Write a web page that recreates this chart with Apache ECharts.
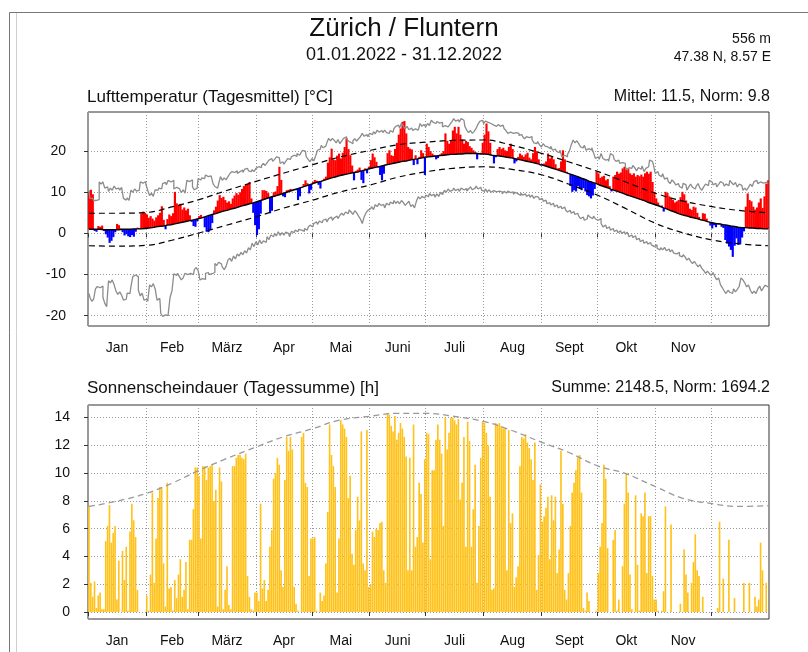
<!DOCTYPE html>
<html lang="de">
<head>
<meta charset="UTF-8">
<title>Zürich / Fluntern 2022</title>
<script src="https://cdn.jsdelivr.net/npm/echarts@6/dist/echarts.min.js"></script>
<style>
  html, body { margin: 0; padding: 0; background: #fff; }
  #main { width: 808px; height: 652px; }
</style>
</head>
<body>
<div id="main"></div>
<script>
// Monatsgrenzen (Tag im Jahr, 0-basiert) und Beschriftungen
const monthStarts = [0, 31, 59, 90, 120, 151, 181, 212, 243, 273, 304, 334, 365];
const monthNames = ['Jan', 'Feb', 'März', 'Apr', 'Mai', 'Juni', 'Juli', 'Aug', 'Sept', 'Okt', 'Nov'];
const tempTicks = [-20, -10, 0, 10, 20];
const sunTicks = [0, 2, 4, 6, 8, 10, 12, 14];

// Tagesmittel der Lufttemperatur 2022 [°C], Jan..Dez
const tempMean = [
  10.2, 10.6, 9.5, 0.6, 0.4, 1.8, 1.6, 1.9, 0.6, -0.2, -1.0, -2.3, -1.8, -0.9, 0.3, 2.3, 2.0, 1.2, 0.3, -0.5, -0.2, -0.7, -0.9, -0.4, -0.8, 0.4, 1.4, 1.3, 4.9, 5.3, 5.0,
  4.6, 3.8, 4.2, 3.6, 3.1, 3.9, 4.4, 5.0, 6.6, 3.3, 1.0, 3.5, 4.6, 4.2, 4.9, 10.1, 7.3, 6.9, 7.2, 5.8, 6.3, 5.6, 6.0, 4.4, 2.8, 1.8, 1.6, 2.9,
  4.2, 4.5, 3.8, 1.5, 0.4, 0.3, 0.8, 2.5, 5.6, 6.5, 8.0, 9.3, 8.6, 8.9, 8.1, 7.5, 7.8, 7.2, 8.5, 9.2, 9.8, 9.4, 10.0, 10.8, 11.5, 11.8, 12.0, 12.5, 8.5, 5.0, 2.0,
  -0.4, 1.0, 4.8, 10.5, 10.5, 10.3, 9.8, 4.9, 5.5, 10.0, 10.2, 11.5, 16.2, 13.0, 9.0, 8.8, 10.5, 10.6, 10.8, 10.6, 10.8, 10.5, 8.1, 9.0, 11.3, 12.0, 12.9, 12.2, 9.7, 10.6,
  12.5, 13.0, 12.8, 11.8, 10.9, 12.9, 13.3, 13.8, 17.2, 18.5, 20.6, 18.0, 17.8, 18.9, 19.4, 18.2, 19.6, 21.0, 23.1, 20.5, 19.0, 16.5, 12.9, 15.2, 15.5, 16.0, 13.0, 12.2, 15.8, 14.6, 16.2,
  17.8, 19.4, 18.5, 17.4, 16.0, 14.2, 12.9, 14.5, 16.8, 19.5, 20.2, 19.0, 18.8, 20.5, 22.0, 24.0, 25.5, 27.1, 27.3, 24.3, 21.0, 20.6, 20.4, 16.6, 19.0, 16.8, 18.6, 20.2, 19.5, 14.2,
  21.8, 21.0, 20.0, 19.4, 19.0, 18.0, 18.3, 19.2, 19.5, 20.0, 24.3, 22.5, 21.8, 22.5, 25.0, 25.9, 24.3, 25.9, 24.0, 22.8, 21.8, 22.5, 22.2, 21.2, 20.8, 20.2, 19.8, 18.0, 19.4, 19.6, 22.0,
  24.0, 26.7, 24.8, 22.0, 19.0, 17.0, 18.5, 20.5, 21.0, 20.5, 20.8, 20.2, 20.0, 21.0, 21.8, 20.5, 17.0, 17.5, 18.6, 19.4, 19.0, 18.6, 19.2, 19.6, 18.4, 18.0, 19.5, 21.0, 20.0, 18.0, 16.5,
  16.9, 17.0, 17.5, 19.4, 18.2, 18.6, 18.0, 16.8, 15.8, 15.9, 17.5, 20.2, 18.0, 15.0, 14.5, 11.5, 10.1, 10.5, 10.2, 11.5, 10.9, 10.5, 11.0, 10.2, 9.3, 9.0, 8.5, 9.2, 10.8, 15.0,
  14.6, 13.5, 13.8, 14.0, 12.9, 13.2, 11.5, 10.2, 13.8, 14.2, 15.0, 14.5, 14.8, 15.8, 16.2, 15.5, 15.8, 14.6, 14.2, 14.6, 13.8, 14.2, 13.9, 14.3, 13.8, 14.6, 15.0, 14.5, 15.0, 12.5, 10.1,
  8.5, 7.5, 6.4, 6.8, 5.3, 10.1, 9.8, 9.0, 8.5, 8.1, 7.5, 7.8, 8.1, 8.8, 10.1, 9.5, 8.0, 7.3, 6.0, 5.7, 6.5, 6.3, 5.0, 4.0, 3.5, 4.9, 4.8, 3.6, 2.9, 1.9,
  1.2, 2.0, 1.5, 2.2, 2.5, 1.6, 1.3, -1.6, -2.5, -3.2, -4.0, -5.7, -3.0, -1.2, -2.8, -2.5, -1.0, 0.5, 6.5, 9.7, 8.1, 7.8, 6.5, 5.8, 6.3, 7.5, 8.5, 6.2, 9.0, 12.1, 12.9
];

// Norm (Tagesmittel 1991-2020) [°C]
const tempNorm = [
  1.0, 1.0, 1.0, 1.0, 1.0, 1.0, 1.0, 0.9, 0.9, 0.9, 0.9, 0.9, 0.9, 0.9, 0.9, 0.9, 0.9, 0.9, 1.0, 1.0, 1.0, 1.0, 1.0, 1.0, 1.1, 1.1, 1.1, 1.1, 1.1, 1.2, 1.2,
  1.2, 1.3, 1.3, 1.4, 1.5, 1.6, 1.6, 1.7, 1.8, 1.8, 1.9, 2.0, 2.1, 2.1, 2.2, 2.3, 2.4, 2.5, 2.6, 2.7, 2.8, 2.9, 3.0, 3.1, 3.2, 3.3, 3.4, 3.5,
  3.6, 3.7, 3.9, 4.0, 4.1, 4.3, 4.4, 4.6, 4.7, 4.8, 5.0, 5.1, 5.2, 5.4, 5.5, 5.6, 5.8, 5.9, 6.0, 6.1, 6.3, 6.4, 6.5, 6.7, 6.8, 6.9, 7.0, 7.2, 7.3, 7.4, 7.6,
  7.7, 7.8, 8.0, 8.1, 8.3, 8.4, 8.6, 8.7, 8.9, 9.0, 9.1, 9.3, 9.4, 9.6, 9.7, 9.9, 10.0, 10.2, 10.3, 10.5, 10.6, 10.8, 10.9, 11.1, 11.2, 11.4, 11.5, 11.7, 11.8, 12.0,
  12.1, 12.2, 12.4, 12.5, 12.6, 12.8, 12.9, 13.1, 13.2, 13.3, 13.5, 13.6, 13.7, 13.9, 14.0, 14.1, 14.2, 14.3, 14.4, 14.5, 14.6, 14.7, 14.8, 14.8, 14.9, 15.1, 15.2, 15.3, 15.4, 15.6, 15.7,
  15.8, 15.9, 16.0, 16.1, 16.2, 16.3, 16.4, 16.5, 16.6, 16.7, 16.8, 16.9, 17.0, 17.1, 17.2, 17.3, 17.4, 17.5, 17.5, 17.6, 17.7, 17.8, 17.9, 18.0, 18.1, 18.1, 18.2, 18.3, 18.4, 18.5,
  18.6, 18.6, 18.7, 18.7, 18.8, 18.8, 18.9, 18.9, 18.9, 19.0, 19.0, 19.1, 19.1, 19.2, 19.2, 19.2, 19.2, 19.3, 19.3, 19.3, 19.4, 19.4, 19.4, 19.4, 19.4, 19.4, 19.4, 19.4, 19.3, 19.3, 19.3,
  19.3, 19.2, 19.2, 19.1, 19.0, 19.0, 18.9, 18.9, 18.8, 18.7, 18.7, 18.6, 18.5, 18.5, 18.4, 18.3, 18.2, 18.1, 18.0, 17.9, 17.8, 17.8, 17.6, 17.5, 17.4, 17.3, 17.2, 17.1, 17.0, 16.9, 16.7,
  16.6, 16.5, 16.3, 16.2, 16.0, 15.9, 15.7, 15.6, 15.5, 15.3, 15.2, 15.0, 14.9, 14.7, 14.6, 14.4, 14.3, 14.1, 13.9, 13.8, 13.6, 13.4, 13.3, 13.1, 12.9, 12.7, 12.6, 12.4, 12.2, 12.1,
  11.9, 11.7, 11.6, 11.4, 11.2, 11.1, 10.9, 10.7, 10.6, 10.4, 10.3, 10.1, 9.9, 9.8, 9.6, 9.4, 9.3, 9.1, 9.0, 8.8, 8.6, 8.5, 8.3, 8.2, 8.0, 7.9, 7.7, 7.5, 7.4, 7.2, 7.1,
  6.9, 6.7, 6.6, 6.4, 6.2, 6.0, 5.9, 5.7, 5.5, 5.4, 5.2, 5.0, 4.8, 4.7, 4.5, 4.4, 4.3, 4.1, 4.0, 3.9, 3.8, 3.7, 3.6, 3.4, 3.3, 3.2, 3.1, 3.0, 2.8, 2.7,
  2.6, 2.5, 2.4, 2.4, 2.3, 2.2, 2.1, 2.1, 2.0, 1.9, 1.8, 1.7, 1.7, 1.6, 1.5, 1.5, 1.4, 1.4, 1.4, 1.4, 1.3, 1.3, 1.3, 1.3, 1.2, 1.2, 1.2, 1.2, 1.1, 1.1, 1.1
];

// Höchstes und tiefstes Tagesmittel der Referenzperiode [°C]
const tempMax = [
  10.5, 8.5, 8.5, 8.0, 8.0, 8.2, 12.5, 12.0, 12.5, 11.0, 11.3, 10.2, 11.0, 10.5, 11.5, 10.8, 11.0, 10.5, 11.2, 8.5, 8.1, 8.6, 8.0, 10.5, 10.0, 10.8, 10.3, 10.5, 12.5, 12.2, 12.6,
  12.0, 10.5, 9.2, 9.8, 9.0, 10.6, 10.5, 11.0, 10.8, 12.1, 12.4, 11.8, 12.9, 12.5, 12.9, 10.8, 11.2, 10.9, 10.5, 9.9, 10.6, 9.8, 12.9, 12.6, 13.0, 11.3, 10.6, 11.0,
  13.3, 13.0, 13.5, 13.3, 14.2, 13.8, 14.0, 13.8, 12.1, 11.4, 11.0, 12.0, 13.8, 12.9, 13.5, 13.0, 13.8, 14.5, 15.0, 14.8, 15.2, 14.6, 15.0, 15.4, 14.8, 15.6, 15.8, 15.2, 15.0, 15.5, 15.0,
  15.8, 16.2, 16.0, 16.5, 17.0, 16.5, 17.2, 17.8, 18.2, 17.5, 18.0, 18.6, 18.4, 17.0, 17.4, 16.8, 17.5, 18.2, 18.0, 18.6, 19.0, 18.7, 19.4, 19.0, 19.5, 20.2, 20.0, 18.6, 18.0, 17.4,
  18.2, 17.6, 18.8, 20.2, 20.5, 21.4, 20.8, 21.2, 22.0, 23.1, 22.5, 23.1, 22.6, 22.0, 22.8, 21.8, 22.5, 23.1, 23.5, 22.6, 22.2, 21.8, 22.5, 23.0, 22.4, 23.0, 23.5, 24.3, 23.6, 24.0, 23.5,
  24.3, 24.0, 24.7, 24.2, 25.1, 24.6, 25.0, 24.5, 25.1, 24.5, 24.3, 25.0, 24.6, 25.5, 26.0, 26.3, 25.6, 26.8, 26.0, 25.5, 26.0, 25.2, 25.6, 25.0, 25.4, 25.1, 25.5, 26.7, 26.0, 26.5,
  25.9, 26.7, 26.2, 27.5, 27.0, 26.7, 27.2, 26.8, 27.0, 25.9, 26.2, 25.9, 25.6, 26.5, 27.1, 27.9, 27.3, 27.6, 27.1, 27.9, 27.5, 26.0, 25.1, 24.5, 25.0, 24.3, 24.8, 25.5, 26.5, 27.2, 27.5,
  26.7, 27.3, 27.0, 26.7, 27.0, 26.3, 26.0, 26.3, 26.5, 26.0, 26.3, 25.5, 25.0, 24.3, 24.6, 24.3, 24.0, 24.5, 24.3, 23.8, 24.0, 23.5, 23.0, 23.5, 23.3, 23.5, 22.8, 22.0, 21.8, 22.3, 21.5,
  21.0, 21.8, 21.2, 21.0, 20.6, 21.2, 20.2, 20.5, 20.0, 19.6, 20.2, 18.6, 19.0, 18.6, 19.2, 20.0, 21.5, 22.7, 22.0, 22.5, 21.8, 21.0, 20.8, 21.4, 20.2, 20.6, 20.2, 20.8, 19.5, 18.2,
  18.6, 18.0, 19.4, 18.2, 17.8, 18.0, 17.5, 19.4, 19.0, 18.0, 17.5, 17.8, 17.0, 17.2, 17.0, 16.2, 15.4, 16.0, 15.8, 16.5, 16.0, 15.2, 16.0, 15.6, 16.4, 15.0, 15.8, 16.2, 17.8, 17.5, 16.8,
  14.6, 15.0, 14.2, 13.8, 14.5, 13.2, 13.5, 12.6, 12.1, 13.0, 12.5, 11.8, 12.1, 11.4, 11.0, 12.2, 11.8, 10.5, 11.3, 12.0, 11.2, 10.8, 11.5, 12.1, 11.0, 10.5, 11.3, 12.0, 11.6, 12.9,
  12.5, 11.8, 12.2, 11.3, 11.9, 12.6, 12.2, 11.5, 12.0, 11.6, 12.9, 12.3, 11.8, 12.4, 11.3, 12.0, 11.6, 10.5, 11.0, 10.5, 11.2, 12.0, 11.4, 12.6, 12.9, 12.1, 12.5, 12.2, 11.8, 12.4, 12.1
];
const tempMin = [
  -14.6, -15.5, -16.5, -16.0, -13.5, -12.9, -13.2, -12.8, -15.5, -17.0, -17.8, -11.5, -12.0, -11.3, -12.5, -14.0, -14.8, -14.2, -15.0, -16.2, -16.0, -14.5, -14.6, -13.0, -10.5, -10.1, -10.5, -13.8, -15.2, -14.5, -16.2,
  -16.0, -16.5, -12.5, -13.0, -12.2, -13.5, -16.2, -15.8, -19.4, -20.2, -19.8, -20.0, -19.5, -15.5, -14.0, -9.8, -10.2, -9.7, -10.5, -11.3, -10.8, -9.7, -10.0, -9.7, -9.5, -10.0, -8.8, -8.3,
  -9.0, -11.3, -11.0, -11.2, -9.7, -9.5, -10.0, -9.8, -9.5, -7.3, -7.8, -7.0, -7.4, -8.2, -8.8, -8.0, -6.5, -6.0, -6.8, -5.5, -6.2, -5.0, -5.5, -4.6, -5.2, -4.2, -4.8, -3.5, -4.0, -2.4, -3.2,
  -2.0, -2.8, -1.6, -2.5, -1.8, -2.2, -0.8, -1.5, -0.4, -0.8, 0.0, -0.6, 0.4, -0.5, 0.2, -0.4, 0.3, 0.0, -0.8, 0.5, 0.2, 0.8, 0.4, 1.0, 0.8, 0.5, 1.2, 0.8, 1.5, 2.0,
  1.6, 2.4, 2.8, 2.2, 3.0, 2.6, 3.2, 3.5, 2.8, 3.6, 4.0, 3.2, 3.8, 4.2, 3.6, 4.4, 4.9, 4.4, 5.2, 4.8, 5.7, 5.2, 4.6, 5.5, 5.0, 4.2, 3.5, 2.4, 4.0, 5.0, 5.6,
  6.0, 6.5, 5.8, 7.0, 6.5, 7.3, 6.8, 7.0, 6.2, 7.3, 6.9, 7.6, 7.2, 8.0, 7.3, 7.8, 7.2, 8.0, 7.5, 6.8, 7.3, 7.8, 6.5, 7.0, 6.2, 7.8, 8.9, 8.4, 9.0, 8.6,
  9.3, 8.9, 9.7, 9.2, 9.5, 8.8, 9.6, 9.0, 10.0, 9.4, 10.5, 10.0, 10.8, 10.2, 10.5, 11.0, 10.4, 10.8, 10.2, 11.0, 10.6, 10.9, 10.3, 10.8, 11.3, 10.6, 11.0, 11.5, 10.8, 11.2, 10.5,
  10.2, 10.8, 10.1, 10.6, 10.0, 10.4, 10.1, 9.8, 10.3, 10.1, 9.6, 10.2, 9.8, 10.3, 9.9, 10.1, 9.5, 10.0, 9.6, 9.2, 9.8, 9.3, 9.6, 9.0, 9.4, 8.8, 9.3, 8.5, 9.0, 8.8, 8.2,
  8.5, 7.8, 8.1, 7.2, 7.5, 6.9, 7.3, 6.5, 6.9, 6.2, 6.6, 6.0, 6.4, 5.7, 5.2, 5.6, 4.9, 5.3, 4.6, 4.9, 4.2, 3.6, 4.0, 3.2, 3.5, 4.5, 4.0, 3.6, 4.2, 3.5,
  3.2, 3.6, 2.4, 1.6, 2.0, 1.2, 1.6, 0.8, 1.2, 0.5, 0.8, 0.2, 0.6, 0.0, 0.4, -0.2, 0.3, -0.8, -0.4, -1.0, -0.6, -1.5, -1.2, -2.0, -1.6, -2.4, -2.0, -2.6, -2.2, -2.8, -3.2,
  -2.8, -3.6, -4.0, -3.5, -4.0, -3.4, -4.2, -3.8, -4.5, -4.0, -4.8, -5.0, -4.6, -5.4, -5.7, -5.2, -5.7, -6.5, -6.0, -6.8, -7.3, -6.8, -7.5, -8.1, -7.6, -8.5, -9.0, -9.7, -9.2, -9.7,
  -10.2, -9.5, -10.5, -11.3, -10.8, -12.5, -13.2, -14.0, -14.6, -13.8, -14.3, -14.6, -13.5, -14.2, -13.6, -12.9, -10.8, -11.3, -12.0, -13.0, -12.5, -13.8, -14.6, -14.0, -14.6, -13.5, -12.8, -14.0, -13.2, -12.6, -13.0
];

// gestrichelte Bandgrenzen, je am 1. und 15. des Monats (Tag, °C)
const tempUpperKnots = [[0, 4.9], [14, 4.9], [31, 5.1], [45, 6.5], [59, 8.2], [73, 10.3], [90, 12.7], [104, 14.6], [120, 16.7], [134, 18.5], [151, 20.2], [165, 21.5], [181, 22.2], [195, 22.6], [212, 22.7], [226, 21.5], [243, 19.4], [257, 17.4], [273, 15.0], [287, 12.6], [304, 9.7], [318, 7.9], [334, 6.5], [348, 5.6], [364, 5.0]];
const tempLowerKnots = [[0, -3.0], [14, -3.1], [31, -2.9], [45, -1.6], [59, 0.1], [73, 1.9], [90, 4.1], [104, 6.1], [120, 8.1], [134, 10.0], [151, 11.8], [165, 13.6], [181, 15.0], [195, 15.8], [212, 16.2], [226, 15.6], [243, 14.2], [257, 12.0], [273, 9.2], [287, 6.2], [304, 2.4], [318, 0.2], [334, -1.6], [348, -2.5], [364, -3.0]];

// Sonnenscheindauer 2022 [h], Jan..Dez
const sunHours = [
  7.6, 2.1, 1.1, 2.2, 0.3, 1.2, 1.4, 0.2, 0.2, 5.1, 6.2, 7.7, 5.0, 5.7, 6.2, 0.9, 3.7, 0.0, 4.4, 2.3, 4.7, 0.1, 5.8, 7.8, 6.6, 5.4, 1.6, 0.0, 0.0, 0.0, 0.0,
  1.2, 0.1, 2.7, 8.6, 2.1, 5.3, 8.2, 9.0, 8.9, 3.5, 0.4, 9.3, 1.7, 1.8, 0.1, 2.3, 1.0, 2.7, 3.8, 1.1, 1.6, 3.6, 0.2, 5.2, 5.2, 7.4, 10.4, 10.4,
  9.8, 5.3, 10.5, 10.5, 9.5, 10.4, 10.5, 10.6, 8.0, 8.8, 0.4, 10.4, 9.4, 0.2, 1.6, 3.3, 0.5, 0.2, 10.5, 10.5, 11.1, 11.3, 11.3, 11.1, 11.0, 11.4, 2.6, 1.1, 0.2, 0.1, 1.4,
  1.4, 0.8, 7.8, 1.7, 2.3, 0.8, 1.6, 4.7, 5.9, 9.6, 10.0, 11.1, 10.6, 3.0, 1.8, 9.5, 12.6, 11.6, 12.6, 11.7, 1.8, 0.6, 0.1, 0.0, 12.6, 12.9, 9.3, 9.0, 2.6, 5.3,
  5.3, 5.4, 0.1, 0.0, 1.4, 0.8, 1.2, 3.5, 7.2, 13.5, 11.3, 10.5, 9.0, 1.4, 5.3, 13.8, 13.5, 13.2, 12.6, 8.2, 9.8, 4.2, 3.4, 5.9, 8.3, 6.6, 13.0, 3.5, 3.0, 13.1, 1.8,
  2.0, 5.8, 5.4, 6.0, 5.9, 6.4, 6.5, 3.0, 2.1, 14.3, 14.2, 13.4, 13.0, 14.1, 12.4, 12.9, 13.6, 13.2, 12.6, 11.2, 3.0, 11.1, 3.0, 13.5, 4.7, 5.4, 9.3, 8.5, 5.0, 11.0,
  12.9, 12.8, 3.8, 10.2, 10.2, 12.4, 13.5, 12.4, 11.4, 6.2, 14.0, 11.7, 12.9, 14.0, 14.0, 13.8, 13.5, 13.9, 8.1, 9.3, 12.6, 4.7, 13.7, 12.3, 4.7, 7.4, 10.6, 2.1, 6.2, 11.1, 13.7,
  13.6, 12.9, 12.0, 8.3, 1.6, 1.7, 13.6, 13.5, 13.6, 13.4, 13.2, 13.2, 3.0, 13.1, 6.4, 7.1, 1.8, 2.5, 3.3, 10.5, 12.6, 12.5, 12.8, 12.2, 11.8, 11.0, 9.5, 12.2, 1.6, 4.1, 9.2,
  6.5, 6.9, 7.5, 8.3, 3.8, 8.4, 6.6, 8.3, 2.8, 4.5, 11.6, 7.8, 1.6, 0.9, 2.8, 6.2, 8.6, 9.3, 10.2, 11.1, 11.3, 8.6, 0.3, 0.1, 1.4, 0.8, 0.0, 0.0, 0.0, 0.1,
  2.8, 4.7, 6.4, 10.6, 9.6, 4.6, 0.0, 0.0, 5.2, 5.9, 0.1, 0.9, 0.0, 3.3, 7.8, 10.0, 8.6, 2.7, 0.2, 0.0, 8.4, 3.4, 0.1, 7.1, 6.9, 8.6, 2.8, 6.9, 6.9, 2.6, 0.9,
  0.9, 0.1, 0.0, 0.1, 1.5, 7.6, 0.0, 0.0, 6.3, 0.0, 0.0, 0.0, 0.0, 0.6, 0.0, 4.5, 2.7, 1.4, 0.0, 2.1, 3.6, 5.6, 3.0, 2.6, 0.0, 1.1, 0.0, 0.0, 0.0, 0.0,
  0.0, 0.0, 0.0, 0.3, 6.5, 0.0, 2.4, 0.0, 0.0, 5.2, 0.0, 0.0, 1.0, 0.0, 0.0, 0.0, 0.0, 2.1, 0.0, 0.0, 2.1, 0.0, 0.0, 1.1, 0.4, 0.9, 5.0, 3.0, 0.0, 2.1, 0.0
];

// Norm der Sonnenscheindauer (Tag, h)
const sunNormKnots = [[0, 7.6], [14, 7.95], [31, 8.55], [45, 9.3], [59, 10.2], [73, 11.0], [90, 11.9], [104, 12.6], [120, 13.2], [134, 13.8], [151, 14.1], [165, 14.3], [181, 14.3], [195, 14.1], [212, 13.7], [226, 13.1], [243, 12.2], [257, 11.5], [273, 10.5], [287, 10.0], [304, 9.0], [318, 8.2], [334, 7.8], [348, 7.6], [364, 7.65]];

const fontFamily = '"Liberation Sans", Arial, Helvetica, sans-serif';
const monthMids = monthNames.map((m, i) => (monthStarts[i] + monthStarts[i + 1]) / 2);

const chart = echarts.init(document.getElementById('main'), null, { renderer: 'canvas' });

function xAxisFor(gridIndex) {
    return {
        type: 'value',
        gridIndex: gridIndex,
        min: 0,
        max: 365,
        axisLine: { show: false },
        axisTick: {
            show: true,
            customValues: monthStarts.slice(0, 12),
            length: 4,
            inside: false,
            lineStyle: { color: '#333', width: 1 }
        },
        axisLabel: {
            customValues: monthMids,
            formatter: function (value) {
                const idx = monthMids.indexOf(value);
                return idx >= 0 ? monthNames[idx] : '';
            },
            color: '#111',
            fontSize: 14,
            fontFamily: fontFamily,
            margin: 15
        },
        splitLine: {
            show: true,
            lineStyle: { color: '#9a9a9a', type: [1, 2], width: 1 }
        }
    };
}

function yAxisFor(gridIndex, min, max, ticks, margin) {
    return {
        type: 'value',
        gridIndex: gridIndex,
        min: min,
        max: max,
        axisLine: { show: false },
        axisTick: {
            show: true,
            customValues: ticks,
            length: 4,
            lineStyle: { color: '#333', width: 1 }
        },
        axisLabel: {
            customValues: ticks,
            color: '#111',
            fontSize: 14,
            fontFamily: fontFamily,
            margin: margin
        },
        splitLine: {
            show: true,
            lineStyle: { color: '#9a9a9a', type: [1, 2], width: 1 }
        }
    };
}

// Balken von der Norm bis zum Tagesmittel: rot = wärmer, blau = kälter
function renderTempBar(params, api) {
    const day = api.value(0);
    const norm = api.value(1);
    const t = api.value(2);
    const p0 = api.coord([day, norm]);
    const p1 = api.coord([day + 1, t]);
    return {
        type: 'rect',
        shape: {
            x: p0[0],
            y: Math.min(p0[1], p1[1]),
            width: p1[0] - p0[0] + 0.3,
            height: Math.abs(p1[1] - p0[1])
        },
        style: { fill: t >= norm ? '#ff0000' : '#0000ff' }
    };
}

function renderSunBar(params, api) {
    const day = api.value(0);
    const h = api.value(1);
    const p0 = api.coord([day + 0.06, 0]);
    const p1 = api.coord([day + 0.94, h]);
    return {
        type: 'rect',
        shape: { x: p0[0], y: p1[1], width: p1[0] - p0[0], height: p0[1] - p1[1] },
        style: { fill: '#ffc21a' }
    };
}

const frameText = (text, x, y, size, align) => ({
    type: 'text',
    x: x,
    y: y,
    style: {
        text: text,
        fontSize: size,
        fontFamily: fontFamily,
        fill: '#111',
        textAlign: align,
        textVerticalAlign: 'middle'
    }
});

const option = {
    animation: false,
    backgroundColor: '#fff',
    grid: [
        { left: 88, top: 112, width: 681, height: 214, show: true, borderColor: '#333', borderWidth: 1, backgroundColor: 'transparent' },
        { left: 88, top: 405, width: 681, height: 214, show: true, borderColor: '#333', borderWidth: 1, backgroundColor: 'transparent' }
    ],
    xAxis: [xAxisFor(0), xAxisFor(1)],
    yAxis: [
        yAxisFor(0, -22.5, 29.5, tempTicks, 22),
        yAxisFor(1, -0.5, 14.9, sunTicks, 18)
    ],
    graphic: [
        { type: 'line', shape: { x1: 9.5, y1: 12.5, x2: 808, y2: 12.5 }, style: { stroke: '#777', lineWidth: 1 } },
        { type: 'line', shape: { x1: 9.5, y1: 12.5, x2: 9.5, y2: 652 }, style: { stroke: '#777', lineWidth: 1 } },
        { type: 'line', shape: { x1: 16.5, y1: 13, x2: 16.5, y2: 652 }, style: { stroke: '#cfcfcf', lineWidth: 1 } },
        frameText('Zürich / Fluntern', 404, 29, 26, 'center'),
        frameText('01.01.2022 - 31.12.2022', 404, 55, 18, 'center'),
        frameText('556 m', 771, 39, 14, 'right'),
        frameText('47.38 N, 8.57 E', 771, 57, 14, 'right'),
        frameText('Lufttemperatur (Tagesmittel) [°C]', 87, 97, 17, 'left'),
        frameText('Mittel: 11.5, Norm: 9.8', 770, 97, 16, 'right'),
        frameText('Sonnenscheindauer (Tagessumme) [h]', 87, 388, 17, 'left'),
        frameText('Summe: 2148.5, Norm: 1694.2', 770, 388, 16, 'right')
    ],
    series: [
        {
            type: 'custom',
            name: 'Abweichung',
            xAxisIndex: 0,
            yAxisIndex: 0,
            clip: true,
            renderItem: renderTempBar,
            encode: { x: 0, y: [1, 2] },
            data: tempMean.map((t, i) => [i, tempNorm[i], t]),
            z: 2
        },
        {
            type: 'line',
            name: 'Max',
            xAxisIndex: 0,
            yAxisIndex: 0,
            step: 'middle',
            showSymbol: false,
            data: tempMax.map((v, i) => [i + 0.5, v]),
            lineStyle: { color: '#8c8c8c', width: 1.3 },
            z: 3
        },
        {
            type: 'line',
            name: 'Min',
            xAxisIndex: 0,
            yAxisIndex: 0,
            step: 'middle',
            showSymbol: false,
            data: tempMin.map((v, i) => [i + 0.5, v]),
            lineStyle: { color: '#8c8c8c', width: 1.3 },
            z: 3
        },
        {
            type: 'line',
            name: 'Norm',
            xAxisIndex: 0,
            yAxisIndex: 0,
            showSymbol: false,
            data: tempNorm.map((v, i) => [i + 0.5, v]),
            lineStyle: { color: '#000', width: 1.4 },
            z: 4
        },
        {
            type: 'line',
            name: 'Obere Grenze',
            xAxisIndex: 0,
            yAxisIndex: 0,
            smooth: 0.4,
            showSymbol: false,
            data: tempUpperKnots.map(p => [p[0] + 0.5, p[1]]),
            lineStyle: { color: '#000', width: 1.2, type: [6, 4] },
            z: 4
        },
        {
            type: 'line',
            name: 'Untere Grenze',
            xAxisIndex: 0,
            yAxisIndex: 0,
            smooth: 0.4,
            showSymbol: false,
            data: tempLowerKnots.map(p => [p[0] + 0.5, p[1]]),
            lineStyle: { color: '#000', width: 1.2, type: [6, 4] },
            z: 4
        },
        {
            type: 'custom',
            name: 'Sonnenschein',
            xAxisIndex: 1,
            yAxisIndex: 1,
            clip: true,
            renderItem: renderSunBar,
            encode: { x: 0, y: 1 },
            data: sunHours.map((h, i) => [i, h]),
            z: 2
        },
        {
            type: 'line',
            name: 'Norm Sonnenschein',
            xAxisIndex: 1,
            yAxisIndex: 1,
            smooth: 0.4,
            showSymbol: false,
            data: sunNormKnots.map(p => [p[0] + 0.5, p[1]]),
            lineStyle: { color: '#999', width: 1.3, type: [6, 4] },
            z: 4
        }
    ]
};

chart.setOption(option);
</script>
</body>
</html>
